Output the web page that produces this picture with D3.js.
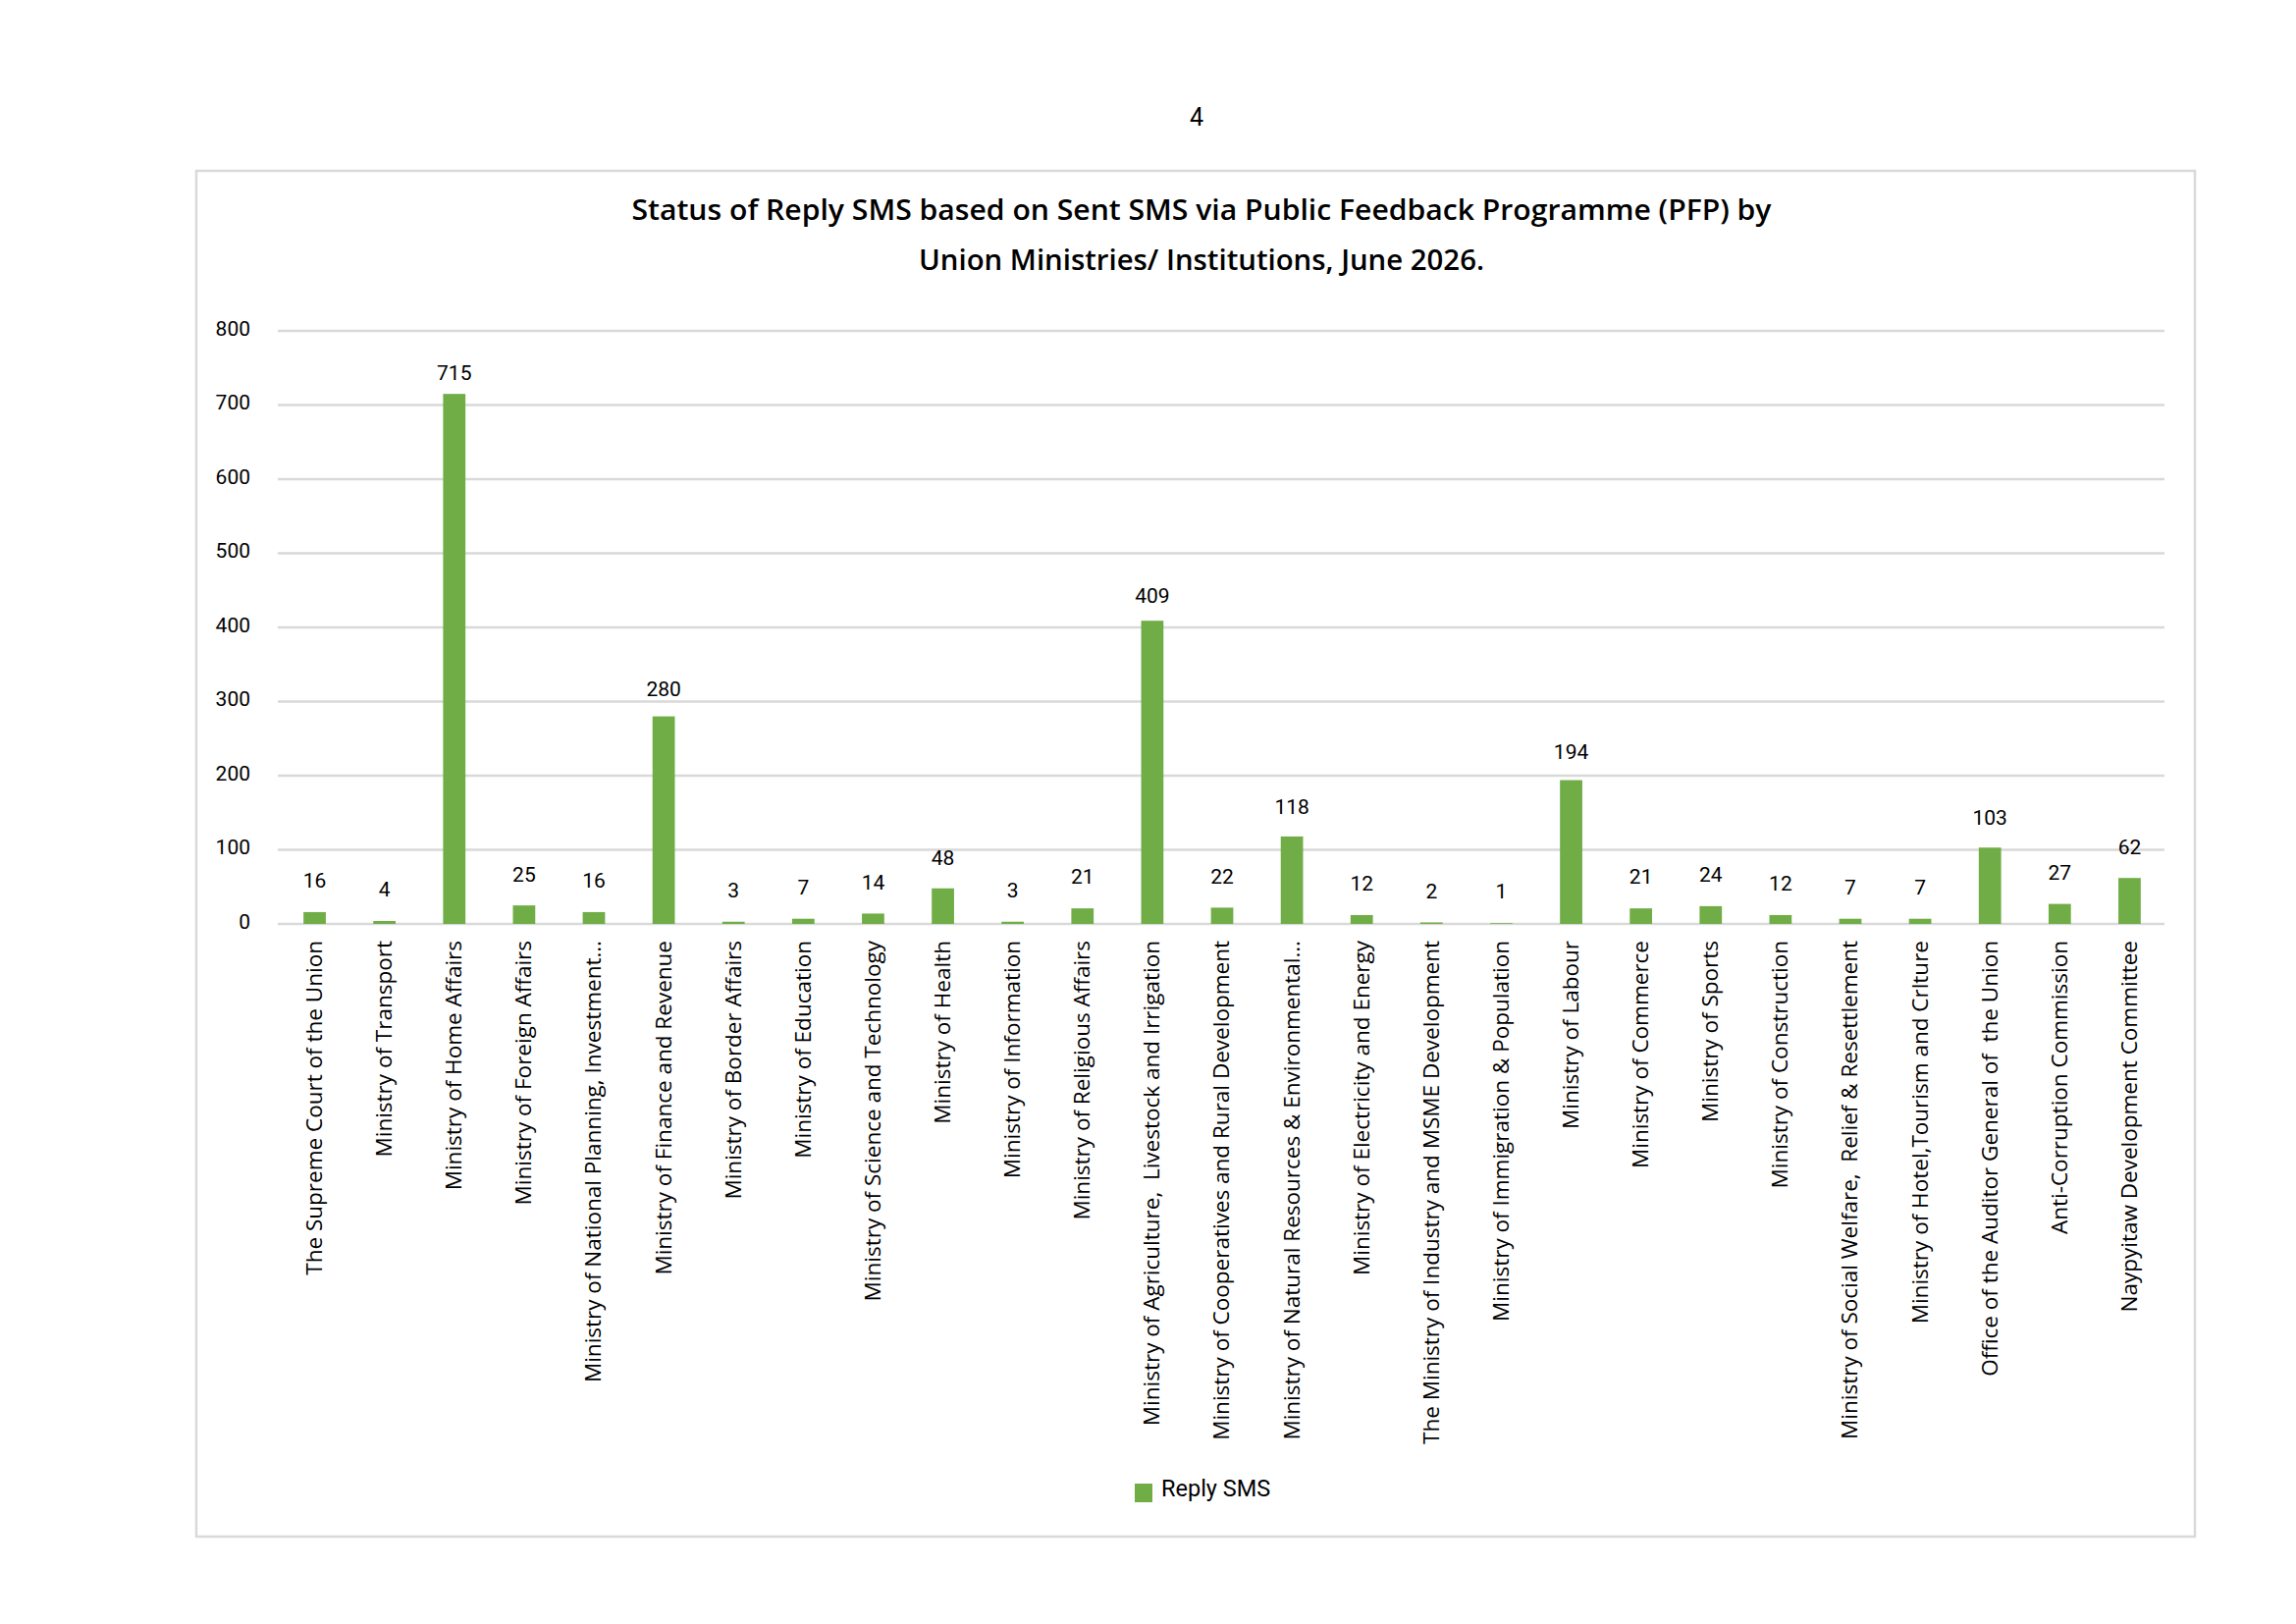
<!DOCTYPE html>
<html>
<head>
<meta charset="utf-8">
<script src="https://cdn.jsdelivr.net/npm/d3@7"></script>
<style>
  body { margin: 0; background: #ffffff; }
  svg { display: block; }
  .tick text { white-space: pre; }
</style>
</head>
<body>
<div id="chart"></div>
<script>
// Chart data
const categories = [
    'The Supreme Court of the Union',
    'Ministry of Transport',
    'Ministry of Home Affairs',
    'Ministry of Foreign Affairs',
    'Ministry of National Planning, Investment\u2026',
    'Ministry of Finance and Revenue',
    'Ministry of Border Affairs',
    'Ministry of Education',
    'Ministry of Science and Technology',
    'Ministry of Health',
    'Ministry of Information',
    'Ministry of Religious Affairs',
    'Ministry of Agriculture,  Livestock and Irrigation',
    'Ministry of Cooperatives and Rural Development',
    'Ministry of Natural Resources & Environmental\u2026',
    'Ministry of Electricity and Energy',
    'The Ministry of Industry and MSME Development',
    'Ministry of Immigration & Population',
    'Ministry of Labour',
    'Ministry of Commerce',
    'Ministry of Sports',
    'Ministry of Construction',
    'Ministry of Social Welfare,  Relief & Resettlement',
    'Ministry of Hotel,Tourism and Crlture',
    'Office of the Auditor General of  the Union',
    'Anti-Corruption Commission',
    'Naypyitaw Development Committee'
];

const replySms = [16, 4, 715, 25, 16, 280, 3, 7, 14, 48, 3, 21, 409, 22, 118, 12, 2, 1, 194, 21, 24, 12, 7, 7, 103, 27, 62];

const yTicks = [0, 100, 200, 300, 400, 500, 600, 700, 800];

const seriesName = 'Reply SMS';
const pageNumber = '4';
const titleLines = [
    'Status of Reply SMS based on Sent SMS via Public Feedback Programme (PFP) by',
    'Union Ministries/ Institutions, June 2026.'
];

function drawChart() {
    const width = 2339;
    const height = 1654;

    const plot = { left: 285, right: 2205, top: 337, bottom: 941 };
    const barColor = '#70ad47';
    const gridColor = '#d9d9d9';
    const numFont = 'Roboto, "Liberation Sans", sans-serif';
    const labelFont = '"Open Sans", "DejaVu Sans", sans-serif';

    const svg = d3.select('#chart')
        .append('svg')
        .attr('width', width)
        .attr('height', height);

    svg.append('rect')
        .attr('width', width)
        .attr('height', height)
        .attr('fill', '#ffffff');

    // page number
    svg.append('text')
        .attr('x', 1219)
        .attr('y', 128)
        .attr('text-anchor', 'middle')
        .attr('font-family', numFont)
        .attr('font-size', 25)
        .attr('fill', '#000')
        .text(pageNumber);

    // chart frame
    svg.append('rect')
        .attr('x', 200)
        .attr('y', 174)
        .attr('width', 2036)
        .attr('height', 1391)
        .attr('fill', 'none')
        .attr('stroke', gridColor)
        .attr('stroke-width', 2.5);

    // title (two lines, widths)
    const titleWidths = [1161, 576];
    svg.selectAll('.title')
        .data(titleLines)
        .join('text')
        .attr('class', 'title')
        .attr('x', 1224)
        .attr('y', (d, i) => 224 + i * 51)
        .attr('text-anchor', 'middle')
        .attr('font-family', labelFont)
        .attr('font-weight', 600)
        .attr('font-size', 28)
        .attr('textLength', (d, i) => titleWidths[i])
        .attr('lengthAdjust', 'spacingAndGlyphs')
        .attr('fill', '#000')
        .text(d => d);

    // scales
    const x = d3.scaleBand()
        .domain(categories)
        .range([plot.left, plot.right])
        .paddingInner(0.68)
        .paddingOuter(0.34);

    const y = d3.scaleLinear()
        .domain([0, 800])
        .range([plot.bottom, plot.top]);

    // gridlines
    svg.append('g')
        .attr('class', 'grid')
        .selectAll('line')
        .data(yTicks)
        .join('line')
        .attr('x1', plot.left - 2)
        .attr('x2', plot.right)
        .attr('y1', d => y(d))
        .attr('y2', d => y(d))
        .attr('stroke', gridColor)
        .attr('stroke-width', 2.3);

    // y axis labels
    const yAxis = svg.append('g')
        .attr('transform', `translate(${plot.left},0)`)
        .call(d3.axisLeft(y).tickValues(yTicks).tickSize(0).tickPadding(30));
    yAxis.select('.domain').remove();
    yAxis.selectAll('text')
        .attr('font-family', numFont)
        .attr('font-size', 21)
        .attr('fill', '#000')
        .attr('dy', '0.19em');

    // bars
    svg.append('g')
        .attr('class', 'bars')
        .selectAll('rect')
        .data(replySms)
        .join('rect')
        .attr('x', (d, i) => x(categories[i]))
        .attr('y', d => y(d))
        .attr('width', x.bandwidth())
        .attr('height', d => y(0) - y(d))
        .attr('fill', barColor);

    // value labels
    svg.append('g')
        .attr('class', 'values')
        .selectAll('text')
        .data(replySms)
        .join('text')
        .attr('x', (d, i) => x(categories[i]) + x.bandwidth() / 2)
        .attr('y', d => y(d) - (25 - d * 0.0155))
        .attr('text-anchor', 'middle')
        .attr('font-family', numFont)
        .attr('font-size', 21)
        .attr('fill', '#000')
        .text(d => d);

    // category axis
    const xAxis = svg.append('g')
        .attr('transform', `translate(0,${plot.bottom})`)
        .call(d3.axisBottom(x).tickSize(0));
    xAxis.select('.domain').remove();
    xAxis.selectAll('text')
        .attr('transform', 'rotate(-90)')
        .attr('text-anchor', 'end')
        .attr('x', -17)
        .attr('y', 0)
        .attr('dy', '0.33em')
        .attr('font-family', labelFont)
        .attr('font-size', 22.5)
        .attr('fill', '#000');

    // legend
    const legend = svg.append('g').attr('class', 'legend');
    legend.append('rect')
        .attr('x', 1156)
        .attr('y', 1511)
        .attr('width', 18)
        .attr('height', 19)
        .attr('fill', barColor);
    legend.append('text')
        .attr('x', 1183)
        .attr('y', 1524)
        .attr('font-family', numFont)
        .attr('font-size', 23.5)
        .attr('fill', '#000')
        .text(seriesName);
}

drawChart();
</script>
</body>
</html>
